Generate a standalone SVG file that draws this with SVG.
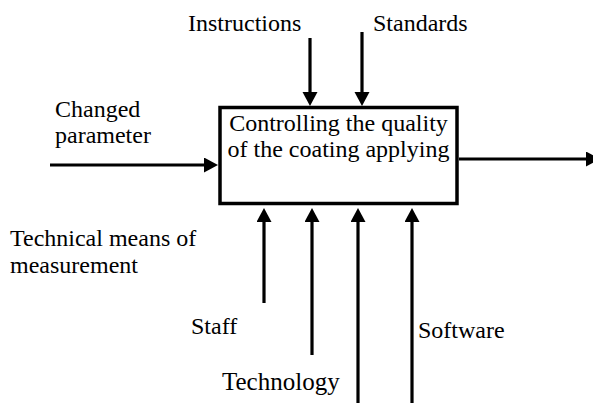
<svg xmlns="http://www.w3.org/2000/svg" width="593" height="403" viewBox="0 0 593 403">
  <style>
    text { font-family: 'Liberation Serif', 'DejaVu Serif', 'Times New Roman', serif; font-size: 24px; fill: #000; }
    .big { font-size: 25px; }
    .conn { stroke: #000; stroke-width: 3.2; fill: none; marker-end: url(#head); }
    .box { fill: #fff; stroke: #000; stroke-width: 3.5; }
  </style>
  <defs>
    <marker id="head" markerUnits="userSpaceOnUse" markerWidth="16" markerHeight="16" refX="6" refY="7.5" orient="auto">
      <path d="M0,0 L14,7.5 L0,15 z" fill="#000"/>
    </marker>
  </defs>

  <!-- connectors: every arrow line stops 8px short of its tip -->
  <g id="connectors">
    <line class="conn" x1="310" y1="38" x2="310" y2="98"/>
    <line class="conn" x1="362" y1="32" x2="362" y2="98"/>
    <line class="conn" x1="50" y1="165" x2="210" y2="165"/>
    <line class="conn" x1="459" y1="159" x2="592" y2="159"/>
    <line class="conn" x1="264" y1="303" x2="264" y2="216"/>
    <line class="conn" x1="312" y1="355" x2="312" y2="216"/>
    <line class="conn" x1="358" y1="403" x2="358" y2="216"/>
    <line class="conn" x1="412" y1="403" x2="412" y2="216"/>
  </g>

  <!-- central activity -->
  <g id="activity">
    <rect class="box" x="220" y="107.5" width="237" height="96"/>
    <text x="338.5" y="131" text-anchor="middle">Controlling the quality</text>
    <text x="338.5" y="157" text-anchor="middle">of the coating applying</text>
  </g>

  <g id="instructions"><text x="188" y="31">Instructions</text></g>
  <g id="standards"><text x="373" y="31">Standards</text></g>
  <g id="changed-parameter">
    <text x="55" y="117">Changed</text>
    <text x="55" y="143">parameter</text>
  </g>
  <g id="technical-means">
    <text x="10" y="246">Technical means of</text>
    <text x="10" y="273">measurement</text>
  </g>
  <g id="staff"><text x="191" y="334">Staff</text></g>
  <g id="software"><text x="418" y="338">Software</text></g>
  <g id="technology"><text class="big" x="222" y="390">Technology</text></g>
</svg>
